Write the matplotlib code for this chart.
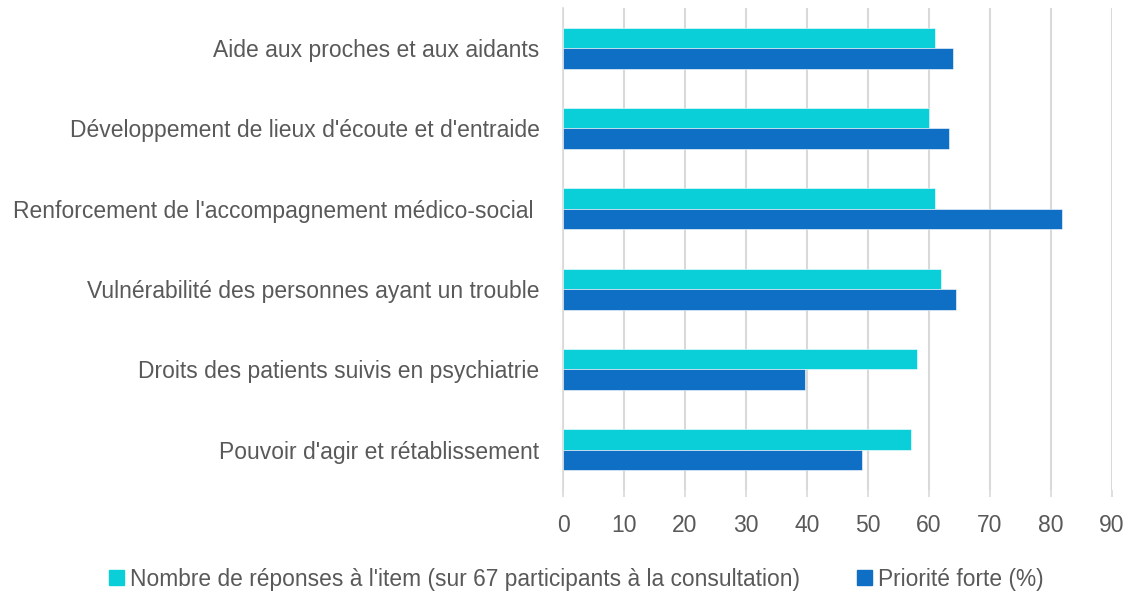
import numpy as np
import matplotlib.pyplot as plt
from matplotlib.patches import Patch

plt.rcParams['font.family'] = ['Liberation Sans Narrow', 'Liberation Sans', 'DejaVu Sans']

categories = [
    "Aide aux proches et aux aidants",
    "Développement de lieux d'écoute et d'entraide",
    "Renforcement de l'accompagnement médico-social ",
    "Vulnérabilité des personnes ayant un trouble",
    "Droits des patients suivis en psychiatrie",
    "Pouvoir d'agir et rétablissement",
]
nb_reponses = [61, 60, 61, 62, 58, 57]
priorite_forte = [63.9, 63.2, 81.8, 64.4, 39.6, 49.0]

serie1 = "Nombre de réponses à l'item (sur 67 participants à la consultation)"
serie2 = "Priorité forte (%)"

cyan = "#0BCFD8"
blue = "#0E6FC5"
grid_col = "#D9D9D9"
text_col = "#595959"

fig = plt.figure(figsize=(11.27, 5.96), dpi=100)
ax = fig.add_axes([0.4996, 0.178, 0.4871, 0.8087])

y = np.arange(len(categories))
h = 0.255
ax.barh(y - h / 2, nb_reponses, height=h, color=cyan, edgecolor="white", linewidth=0.4, zorder=3)
ax.barh(y + h / 2, priorite_forte, height=h, color=blue, edgecolor="white", linewidth=0.4, zorder=3)

ax.set_ylim(len(categories) - 0.5, -0.5)
ax.set_xlim(0, 90)
ax.set_xticks(np.arange(0, 91, 10))
ax.set_yticks(y)
ax.set_yticklabels(categories)

ax.grid(axis="x", color=grid_col, linewidth=1.5, zorder=0)
for s in ["top", "right", "bottom"]:
    ax.spines[s].set_visible(False)
ax.spines["left"].set_color(grid_col)
ax.spines["left"].set_linewidth(1.2)

ax.tick_params(axis="y", length=0, pad=17, labelsize=16.5, labelcolor=text_col)
ax.tick_params(axis="x", length=5, width=1.2, color=grid_col, pad=12, labelsize=16.5, labelcolor=text_col)

handles = [Patch(color=cyan), Patch(color=blue)]
fig.legend(handles, [serie1, serie2], loc="center", bbox_to_anchor=(0.5115, 0.028),
           ncol=2, frameon=False, fontsize=16.4, labelcolor=text_col,
           handlelength=0.66, handleheight=0.66, handletextpad=0.26, columnspacing=2.5)

fig.savefig("out.png", dpi=100)
